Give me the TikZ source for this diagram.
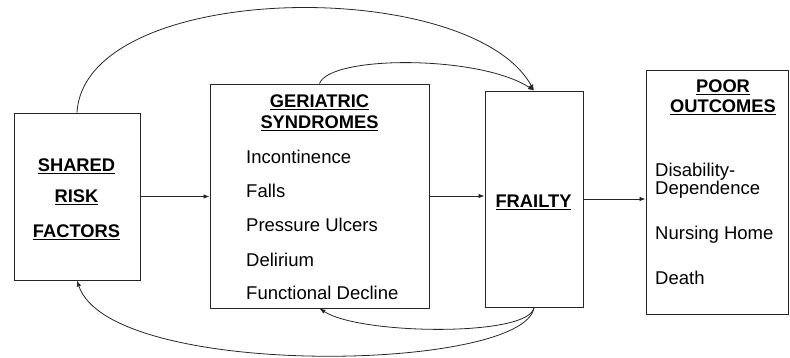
\documentclass[tikz,border=0pt]{standalone}
\usepackage{fontspec}
\setmainfont{Liberation Sans}
\usetikzlibrary{arrows.meta}
\begin{document}
\begin{tikzpicture}[x=1pt,y=-1pt,
  box/.style={draw=black!85, line width=0.9pt, inner sep=0pt},
  head/.style={font=\fontsize{18.3}{20}\selectfont\bfseries, inner sep=0pt, anchor=base},
  item/.style={font=\fontsize{18.5}{20}\selectfont, inner sep=0pt, anchor=base west},
  conn/.style={draw=black!85, line width=0.8pt, -{Latex[length=6pt,width=4.5pt]}}]
\useasboundingbox (0,0) rectangle (790,358);
% boxes
\node[box, minimum width=126pt, minimum height=167pt] (shared) at (77,196.5) {};
\node[box, minimum width=219pt, minimum height=224pt] (geri) at (319.5,196) {};
\node[box, minimum width=98pt, minimum height=216pt] (frailty) at (534,199) {};
\node[box, minimum width=142pt, minimum height=244pt] (poor) at (717,192) {};
% headings
\node[head] (t1) at (76.5,172) {\underline{SHARED}};
\node[head] (t2) at (76.5,203) {\underline{RISK}};
\node[head] (t3) at (76.5,238) {\underline{FACTORS}};
\node[head] (t4) at (319.5,108) {\underline{GERIATRIC}};
\node[head] (t5) at (319.5,129) {\underline{SYNDROMES}};
\node[head] (t6) at (533.5,208) {\underline{FRAILTY}};
\node[head] (t7) at (723,93) {\underline{POOR}};
\node[head] (t8) at (723,113) {\underline{OUTCOMES}};
% items
\node[item] (i1) at (246,164) {Incontinence};
\node[item] (i2) at (246,198) {Falls};
\node[item] (i3) at (246,232) {Pressure Ulcers};
\node[item] (i4) at (246,266) {Delirium};
\node[item] (i5) at (246,299) {Functional Decline};
\node[item] (o1) at (655,177) {Disability-};
\node[item] (o2) at (655,195) {Dependence};
\node[item] (o3) at (655,240) {Nursing Home};
\node[item] (o4) at (655,284) {Death};
% straight connectors
\draw[conn] (shared.east) -- (shared.east -| geri.west);
\draw[conn] (geri.east) -- (geri.east -| frailty.west);
\draw[conn] (frailty.east) -- (frailty.east -| poor.west);
% curved connectors
\draw[conn] (shared.north) .. controls (85,-20) and (470,-25) .. (frailty.north);
\draw[conn] (geri.north) .. controls (330,55) and (480,55) .. (frailty.north);
\draw[conn] (frailty.south) .. controls (530,337) and (360,335) .. (geri.south);
\draw[conn] (frailty.south) .. controls (525,372) and (110,380) .. (shared.south);
\end{tikzpicture}
\end{document}
